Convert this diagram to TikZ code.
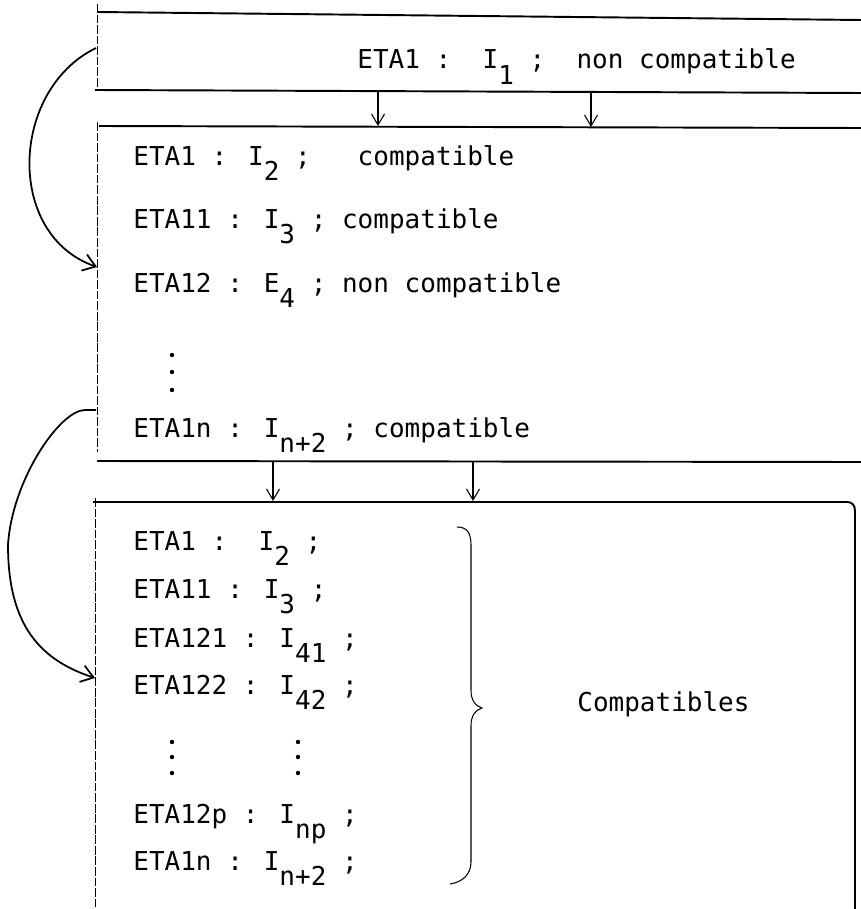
\documentclass[tikz,border=0pt]{standalone}
\usepackage{fontspec}
\setmainfont{DejaVu Sans Mono}
\usetikzlibrary{arrows.meta,positioning,calc}
\newcommand{\LowIdx}[1]{\raisebox{-0.6em}{#1}}

\begin{document}
\begin{tikzpicture}[
  x=0.02cm, y=-0.02cm,
  etaline/.style={anchor=base west, inner sep=0pt, font=\fontsize{14.8}{18}\selectfont},
  frameline/.style={line width=1.1pt},
  sideline/.style={line width=0.5pt, dash pattern=on 5pt off 1pt},
  flow/.style={-{Straight Barb[length=2.2mm,width=2.6mm]}, line width=0.6pt},
  loopback/.style={-{Straight Barb[length=2.4mm,width=3.4mm]}, line width=1pt},
  bracestroke/.style={line width=0.6pt}
]
\useasboundingbox (0,0) rectangle (861,909);
% first block
\draw[sideline] (97,4) -- (97,88);
\draw[frameline] (97,12) -- (861,20);
\draw[frameline] (95,90) -- (861,93);
\node[etaline] (A1) at (357,69) {ETA1 :~~I\LowIdx{1} ;~~non compatible};
% second block
\draw[sideline] (97,122) -- (97,452);
\draw[frameline] (99,126) -- (861,128);
\draw[frameline] (97,461) -- (861,462);
\node[etaline] (B1) at (133,165) {ETA1 : I\LowIdx{2} ;~~~compatible};
\node[etaline] (B2) at (133,228) {ETA11 : I\LowIdx{3} ; compatible};
\node[etaline] (B3) at (133,292) {ETA12 : E\LowIdx{4} ; non compatible};
\foreach \yy in {355,372,390} \fill (172,\yy) circle (2.2);
\node[etaline] (B4) at (133,437) {ETA1n : I\LowIdx{n+2} ; compatible};
% third block
\draw[sideline] (95,498) -- (95,909);
\draw[frameline] (93,502) -- (847,502) .. controls (852,502) and (855,505) .. (855,511);
\draw[line width=1.6pt] (855,511) -- (855,909);
\node[etaline] (C1) at (133,550) {ETA1 :~~I\LowIdx{2} ;};
\node[etaline] (C2) at (133,598) {ETA11 : I\LowIdx{3} ;};
\node[etaline] (C3) at (133,647) {ETA121 : I\LowIdx{41} ;};
\node[etaline] (C4) at (133,694) {ETA122 : I\LowIdx{42} ;};
\foreach \yy in {742,757,773} {
  \fill (172,\yy) circle (2.2);
  \fill (298,\yy) circle (2.2);
}
\node[etaline] (C5) at (133,823) {ETA12p : I\LowIdx{np} ;};
\node[etaline] (C6) at (133,870) {ETA1n : I\LowIdx{n+2} ;};
% brace
\draw[bracestroke] (457,527) .. controls (467,527) and (471,533) .. (471,545) -- (471,690)
  .. controls (471,700) and (475,706) .. (482,708) .. controls (475,710) and (471,716) .. (471,726)
  -- (471,862) .. controls (471,874) and (463,882) .. (450,884);
\node[etaline] (Comp) at (577,711) {Compatibles};
% arrows between blocks
\coordinate (A1a) at (378,92);  \coordinate (B1a) at (378,126);
\coordinate (A1b) at (591,93);  \coordinate (B1b) at (591,127);
\coordinate (B4a) at (273,462); \coordinate (C1a) at (273,501);
\coordinate (B4b) at (473,462); \coordinate (C1b) at (473,501);
\draw[flow] (A1a) -- (B1a);
\draw[flow] (A1b) -- (B1b);
\draw[flow] (B4a) -- (C1a);
\draw[flow] (B4b) -- (C1b);
% loops back
\coordinate (L1s) at (96,48);  \coordinate (L1e) at (97,267);
\coordinate (L2s) at (96,410); \coordinate (L2e) at (95,678);
\draw[loopback] (L1s) .. controls (10,90) and (5,235) .. (L1e);
\draw[loopback] (L2s) -- (85,410) .. controls (60,410) and (12,480) .. (8,545)
  .. controls (8,625) and (40,660) .. (L2e);
\end{tikzpicture}
\end{document}
